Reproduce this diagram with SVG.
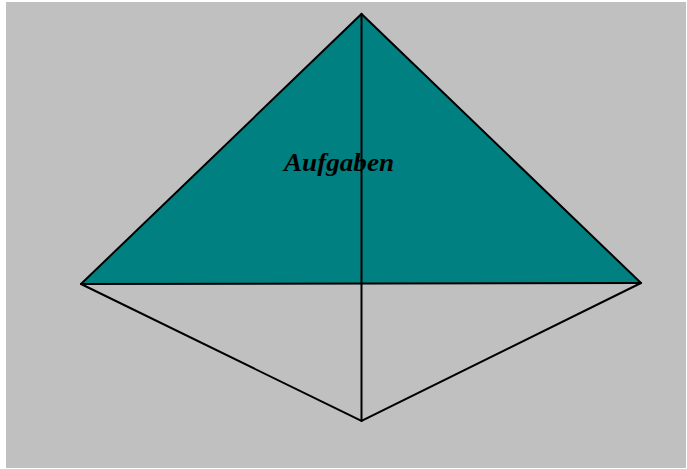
<svg xmlns="http://www.w3.org/2000/svg" width="687" height="469" viewBox="0 0 687 469">
<style>
.ln{stroke:#000;stroke-width:2;fill:none;stroke-linecap:round}
.lbl{font-family:"Liberation Serif","Times New Roman",serif;font-weight:bold;font-style:italic;font-size:25px;fill:#000}
</style>
<rect x="0" y="0" width="687" height="469" fill="#fff"/>
<rect x="6" y="2" width="680" height="466" fill="#c0c0c0"/>
<g id="top-triangle">
<polygon points="361.5,14 81,284 641,283" fill="#008080"/>
<text class="lbl" x="284" y="171" textLength="110" lengthAdjust="spacingAndGlyphs">Aufgaben</text>
</g>
<g id="connectors">
<polyline class="ln" points="81,284 361.5,14 641,283"/>
<line class="ln" x1="81" y1="284" x2="641" y2="283"/>
<line class="ln" x1="361.5" y1="14" x2="361.5" y2="421"/>
<polyline class="ln" points="81,284 361.5,421 641,283"/>
</g>
</svg>
